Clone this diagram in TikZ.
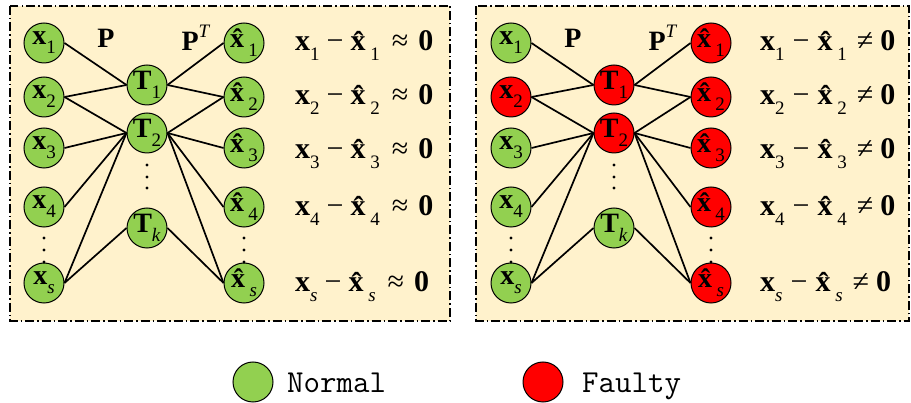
\documentclass[tikz,border=0pt]{standalone}
\usepackage{fontspec}
\setmainfont{Liberation Serif}
\definecolor{ngreen}{HTML}{92D050}
\definecolor{fred}{HTML}{FF0000}
\definecolor{panelbg}{HTML}{FFF2CC}
\newcommand{\subsz}{\fontsize{19}{19}\selectfont}
\newcommand{\vx}[1]{\textbf{x}\raisebox{-0.32em}{\subsz #1}}
\newcommand{\vxh}[1]{\textbf{\^{x}}\raisebox{-0.32em}{\subsz #1}}
\newcommand{\vT}[1]{\textbf{T}\raisebox{-0.32em}{\subsz #1}}
\newcommand{\eqline}[5]{\vx{#1}\hspace{#3}−\hspace{#3}\vxh{#1}\hspace{#4}#2\hspace{#5}\textbf{0}}
\tikzset{
  nd/.style={circle, draw=black, line width=1pt, minimum size=40pt, inner sep=0pt},
  gn/.style={nd, fill=ngreen},
  rd/.style={nd, fill=fred},
  lbl/.style={inner sep=0pt, font=\fontsize{28}{30}\selectfont},
  edge/.style={line width=1.7pt, black},
  panel/.style={fill=panelbg, draw=black, line width=1.4pt, dash pattern=on 9pt off 3pt on 1.5pt off 3pt},
  eq/.style={anchor=base west, inner sep=0pt, font=\fontsize{30}{32}\selectfont},
  legtxt/.style={anchor=base west, inner sep=0pt, font=\ttfamily\fontsize{32}{34}\selectfont}
}
\begin{document}
\begin{tikzpicture}[x=1pt, y=-1pt]
\useasboundingbox (0,0) rectangle (911,403);
% panels
\draw[panel] (10,6) rectangle (450,321);
\draw[panel] (476,6) rectangle (909,321);

% ---------- left panel ----------
\node[gn, label={[lbl]center:\vx{1}}] (Lx1) at (44,43) {};
\node[gn, label={[lbl]center:\vx{2}}] (Lx2) at (44,97) {};
\node[gn, label={[lbl]center:\vx{3}}] (Lx3) at (44,148) {};
\node[gn, label={[lbl]center:\vx{4}}] (Lx4) at (44,207) {};
\node[gn, label={[lbl]center:\vx{\textit{s}}}] (Lxs) at (44,283) {};
\node[gn, label={[lbl]center:\vT{1}}] (LT1) at (147,85) {};
\node[gn, label={[lbl]center:\vT{2}}] (LT2) at (147,133) {};
\node[gn, label={[lbl]center:\vT{\textit{k}}}] (LTk) at (147,228) {};
\node[gn, label={[lbl]center:\vxh{1}}] (Lh1) at (244,43) {};
\node[gn, label={[lbl]center:\vxh{2}}] (Lh2) at (244,97) {};
\node[gn, label={[lbl]center:\vxh{3}}] (Lh3) at (244,148) {};
\node[gn, label={[lbl]center:\vxh{4}}] (Lh4) at (244,207) {};
\node[gn, label={[lbl]center:\vxh{\textit{s}}}] (Lhs) at (244,283) {};
\node[lbl] (LP) at (106,38) {\textbf{P}};
\node[lbl] (LPT) at (196,38) {\textbf{P}\raisebox{0.45em}{\subsz\textit{T}}};
\foreach \a/\b in {x1/T1, x2/T1, x2/T2, x3/T2, x4/T2, xs/T2, xs/Tk}
  \draw[edge] (L\a.east) -- (L\b.west);
\foreach \a/\b in {T1/h1, T1/h2, T2/h2, T2/h3, T2/h4, T2/hs, Tk/hs}
  \draw[edge] (L\a.east) -- (L\b.west);
\foreach \yy in {165,177,188} \fill (147,\yy) circle (1.6pt);
\foreach \yy in {238,250,262} {\fill (44,\yy) circle (1.6pt); \fill (244,\yy) circle (1.6pt);}
\node[eq] (Le1) at (295,51) {\eqline{1}{≈}{7pt}{12pt}{10pt}};
\node[eq] (Le2) at (295,105) {\eqline{2}{≈}{7pt}{12pt}{10pt}};
\node[eq] (Le3) at (295,159) {\eqline{3}{≈}{7pt}{12pt}{10pt}};
\node[eq] (Le4) at (295,216) {\eqline{4}{≈}{7pt}{12pt}{10pt}};
\node[eq] (Les) at (295,292) {\eqline{\textit{s}}{≈}{7pt}{12pt}{10pt}};

% ---------- right panel ----------
\begin{scope}[xshift=467pt]
\node[gn, label={[lbl]center:\vx{1}}] (Rx1) at (44,43) {};
\node[rd, label={[lbl]center:\vx{2}}] (Rx2) at (44,97) {};
\node[gn, label={[lbl]center:\vx{3}}] (Rx3) at (44,148) {};
\node[gn, label={[lbl]center:\vx{4}}] (Rx4) at (44,207) {};
\node[gn, label={[lbl]center:\vx{\textit{s}}}] (Rxs) at (44,283) {};
\node[rd, label={[lbl]center:\vT{1}}] (RT1) at (147,85) {};
\node[rd, label={[lbl]center:\vT{2}}] (RT2) at (147,133) {};
\node[gn, label={[lbl]center:\vT{\textit{k}}}] (RTk) at (147,228) {};
\node[rd, label={[lbl]center:\vxh{1}}] (Rh1) at (244,43) {};
\node[rd, label={[lbl]center:\vxh{2}}] (Rh2) at (244,97) {};
\node[rd, label={[lbl]center:\vxh{3}}] (Rh3) at (244,148) {};
\node[rd, label={[lbl]center:\vxh{4}}] (Rh4) at (244,207) {};
\node[rd, label={[lbl]center:\vxh{\textit{s}}}] (Rhs) at (244,283) {};
\node[lbl] (RP) at (106,38) {\textbf{P}};
\node[lbl] (RPT) at (196,38) {\textbf{P}\raisebox{0.45em}{\subsz\textit{T}}};
\foreach \a/\b in {x1/T1, x2/T1, x2/T2, x3/T2, x4/T2, xs/T2, xs/Tk}
  \draw[edge] (R\a.east) -- (R\b.west);
\foreach \a/\b in {T1/h1, T1/h2, T2/h2, T2/h3, T2/h4, T2/hs, Tk/hs}
  \draw[edge] (R\a.east) -- (R\b.west);
\foreach \yy in {165,177,188} \fill (147,\yy) circle (1.6pt);
\foreach \yy in {238,250,262} {\fill (44,\yy) circle (1.6pt); \fill (244,\yy) circle (1.6pt);}
\end{scope}
\node[eq] (Re1) at (760,51) {\eqline{1}{≠}{8pt}{10pt}{7pt}};
\node[eq] (Re2) at (760,105) {\eqline{2}{≠}{8pt}{10pt}{7pt}};
\node[eq] (Re3) at (760,159) {\eqline{3}{≠}{8pt}{10pt}{7pt}};
\node[eq] (Re4) at (760,216) {\eqline{4}{≠}{8pt}{10pt}{7pt}};
\node[eq] (Res) at (760,292) {\eqline{\textit{s}}{≠}{8pt}{10pt}{7pt}};

% ---------- legend ----------
\node[gn] (Lgn) at (253,382) {};
\node[legtxt] (Ltx) at (287,392) {Normal};
\node[rd] (Lrd) at (543,382) {};
\node[legtxt] (Rtx) at (582,392) {Faulty};
\end{tikzpicture}
\end{document}
